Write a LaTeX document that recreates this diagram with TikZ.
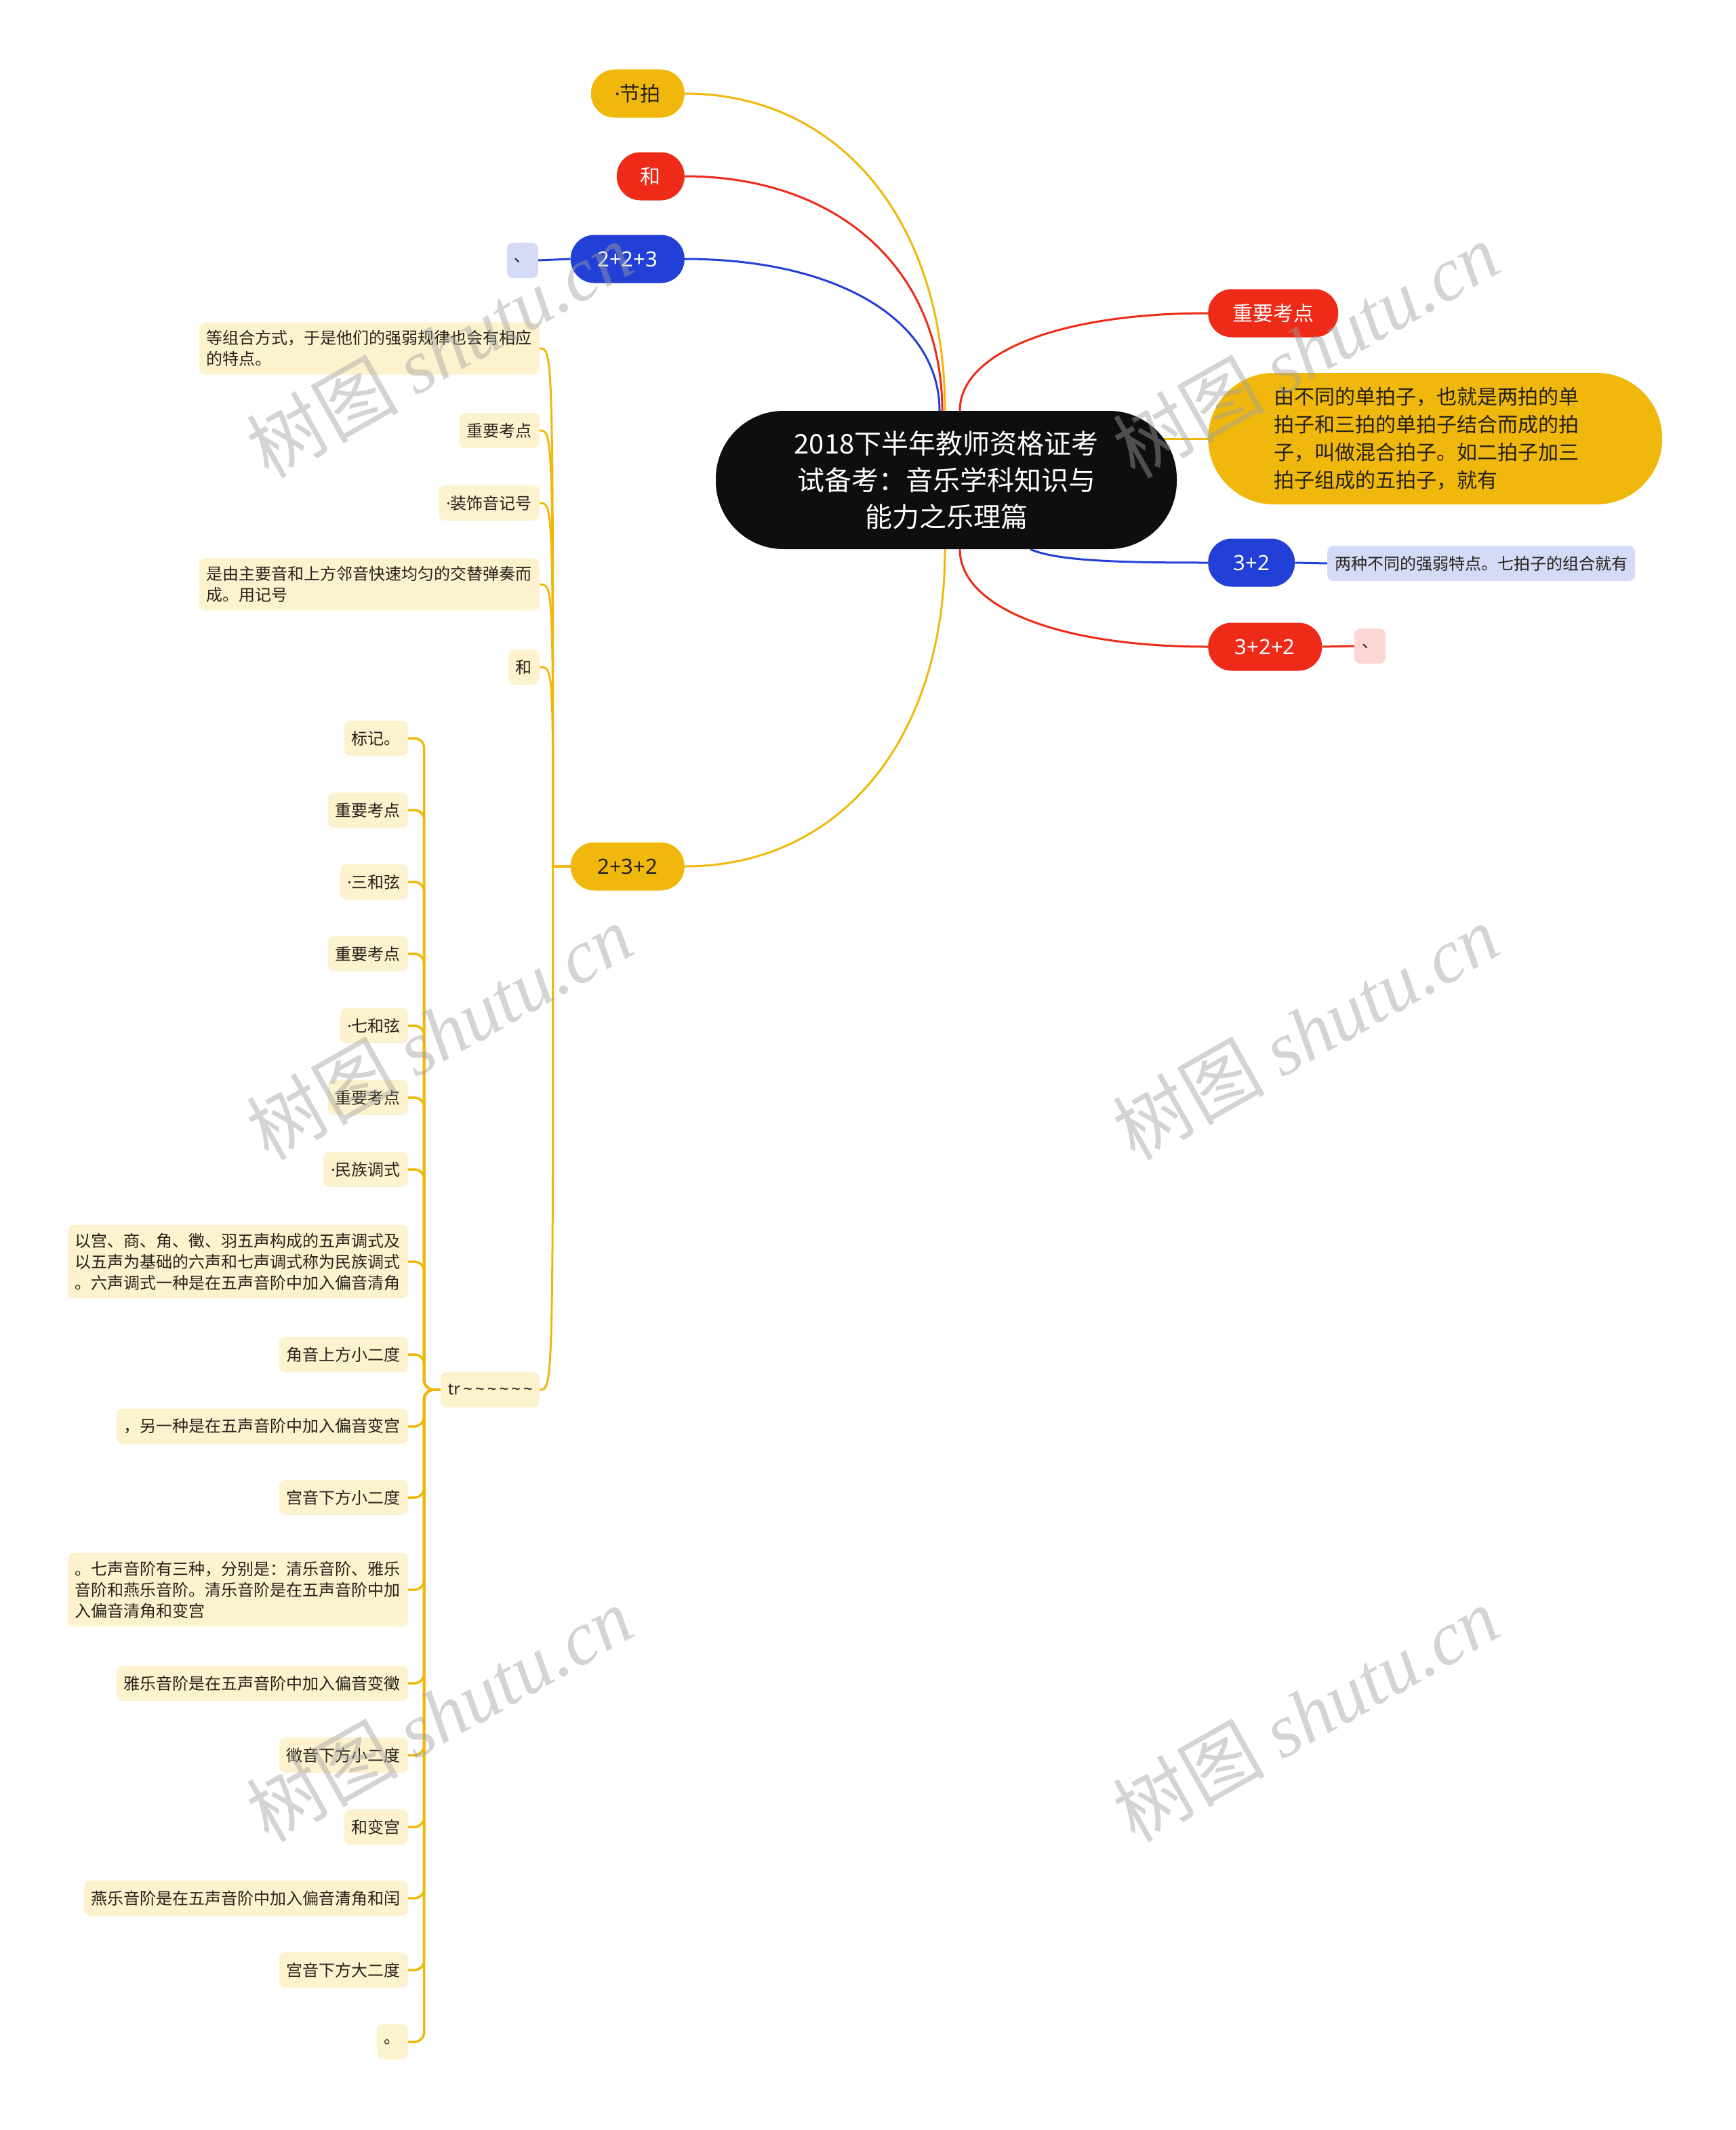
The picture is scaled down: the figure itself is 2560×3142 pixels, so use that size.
\documentclass[tikz,border=0pt]{standalone}
\usepackage{fontspec}
\setmainfont{Noto Sans CJK SC}
\newfontfamily\latinfont{Noto Sans}
\newfontfamily\markfont{Liberation Serif}
\usetikzlibrary{positioning,backgrounds}
\definecolor{mmyellow}{RGB}{240,184,12}
\definecolor{mmred}{RGB}{238,42,24}
\definecolor{mmblue}{RGB}{34,64,214}
\definecolor{mmblack}{RGB}{14,14,14}
\definecolor{paleyellow}{RGB}{253,242,206}
\definecolor{palelav}{RGB}{213,218,246}
\definecolor{palepink}{RGB}{252,214,210}
\definecolor{inktext}{RGB}{38,34,26}
\definecolor{markgray}{RGB}{160,160,160}
\newcommand{\mdot}{{\latinfont ·}}

\begin{document}
\begin{tikzpicture}[x=1pt,y=-1pt,
    every node/.style={inner sep=0pt},
    root/.style={fill=mmblack, text=white, rounded corners=100pt, minimum width=680pt,
      minimum height=204pt, align=center, font=\fontsize{40}{54}\selectfont},
    pill/.style={rounded corners=35pt, minimum height=71pt, inner xsep=35pt,
      font=\fontsize{30}{41}\selectfont},
    numpill/.style={pill, font=\fontsize{31}{41}\latinfont},
    bigpill/.style={fill=mmyellow, text=inktext, rounded corners=97pt, minimum height=194pt,
      text width=476pt, inner xsep=97pt, align=left, font=\fontsize{30}{41}\selectfont},
    leaf/.style={fill=paleyellow, text=inktext, rounded corners=9pt, inner xsep=11pt,
      inner ysep=12pt, minimum height=52pt, align=left, font=\fontsize{24}{31}\selectfont},
    link/.style={line width=3pt},
    trlink/.style={line width=3.5pt, mmyellow, rounded corners=14pt},
    wmark/.style={text=markgray, opacity=0.45, rotate=29.5, font=\fontsize{112}{112}\selectfont}]
\useasboundingbox (0,0) rectangle (2560,3142);

% centre topic
\node[root] (root) at (1396,708) {2018下半年教师资格证考\\试备考：音乐学科知识与\\能力之乐理篇};

% left branches
\node[pill, fill=mmyellow, text=inktext, anchor=east, minimum width=138pt] (jiepai) at (1010,138) {\mdot 节拍};
\node[pill, fill=mmred, text=white, anchor=east, minimum width=100pt] (he) at (1010,260) {和};
\node[numpill, fill=mmblue, text=white, anchor=east, minimum width=168pt] (n223) at (1010,382) {2+2+3};
\node[leaf, fill=palelav, anchor=east] (dun1) at (794,384) {、};
\node[numpill, fill=mmyellow, text=inktext, anchor=east, minimum width=168pt] (n232) at (1010,1278) {2+3+2};

% right branches
\node[pill, fill=mmred, text=white, anchor=west, minimum width=192pt] (zdkd) at (1782,462) {重要考点};
\node[bigpill, anchor=west] (mix) at (1782,647) {由不同的单拍子，也就是两拍的单\\拍子和三拍的单拍子结合而成的拍\\子，叫做混合拍子。如二拍子加三\\拍子组成的五拍子，就有};
\node[numpill, fill=mmblue, text=white, anchor=west, minimum width=128pt] (n32) at (1782,830) {3+2};
\node[leaf, fill=palelav, anchor=west] (qipai) at (1958,831) {两种不同的强弱特点。七拍子的组合就有};
\node[numpill, fill=mmred, text=white, anchor=west, minimum width=168pt] (n322) at (1782,954) {3+2+2};
\node[leaf, fill=palepink, anchor=west] (dun2) at (1998,953) {、};

% children of 2+3+2
\node[leaf, anchor=east] (a1) at (796,514) {等组合方式，于是他们的强弱规律也会有相应\\的特点。};
\node[leaf, anchor=east] (a2) at (796,635) {重要考点};
\node[leaf, anchor=east] (a3) at (796,742) {\mdot 装饰音记号};
\node[leaf, anchor=east] (a4) at (796,862) {是由主要音和上方邻音快速均匀的交替弹奏而\\成。用记号};
\node[leaf, anchor=east] (a5) at (796,984) {和};
\node[leaf, anchor=east, text width=124pt] (tr) at (796,2050) {\latinfont tr\,\textasciitilde\,\textasciitilde\,\textasciitilde\,\textasciitilde\,\textasciitilde\,\textasciitilde};

% children of tr
\node[leaf, anchor=east] (b1) at (602,1089) {标记。};
\node[leaf, anchor=east] (b2) at (602,1195) {重要考点};
\node[leaf, anchor=east] (b3) at (602,1301) {\mdot 三和弦};
\node[leaf, anchor=east] (b4) at (602,1407) {重要考点};
\node[leaf, anchor=east] (b5) at (602,1513) {\mdot 七和弦};
\node[leaf, anchor=east] (b6) at (602,1619) {重要考点};
\node[leaf, anchor=east] (b7) at (602,1725) {\mdot 民族调式};
\node[leaf, anchor=east] (b8) at (602,1861) {以宫、商、角、徵、羽五声构成的五声调式及\\以五声为基础的六声和七声调式称为民族调式\\。六声调式一种是在五声音阶中加入偏音清角};
\node[leaf, anchor=east] (b9) at (602,1998) {角音上方小二度};
\node[leaf, anchor=east] (b10) at (602,2104) {，另一种是在五声音阶中加入偏音变宫};
\node[leaf, anchor=east] (b11) at (602,2209) {宫音下方小二度};
\node[leaf, anchor=east] (b12) at (602,2345) {。七声音阶有三种，分别是：清乐音阶、雅乐\\音阶和燕乐音阶。清乐音阶是在五声音阶中加\\入偏音清角和变宫};
\node[leaf, anchor=east] (b13) at (602,2483) {雅乐音阶是在五声音阶中加入偏音变徵};
\node[leaf, anchor=east] (b14) at (602,2589) {徵音下方小二度};
\node[leaf, anchor=east] (b15) at (602,2695) {和变宫};
\node[leaf, anchor=east] (b16) at (602,2800) {燕乐音阶是在五声音阶中加入偏音清角和闰};
\node[leaf, anchor=east] (b17) at (602,2906) {宫音下方大二度};
\node[leaf, anchor=east] (b18) at (602,3012) {。};

% connectors
\begin{scope}[on background layer]
\draw[link, mmyellow] (jiepai.east) .. controls +(228,0) and +(0,-280) .. ([xshift=-2pt]root.north);
\draw[link, mmred] (he.east) .. controls +(227,0) and +(0,-208) .. ([xshift=-6pt]root.north);
\draw[link, mmblue] (n223.east) .. controls +(225,0) and +(0,-134) .. ([xshift=-10pt]root.north);
\draw[link, mmblue] (dun1.east) -- (n223.west);
\draw[link, mmyellow] (n232.east) .. controls +(230,0) and +(0,280) .. ([xshift=-2pt]root.south);
\draw[link, mmred] ([xshift=20pt]root.north) .. controls +(0,-86) and +(-220,0) .. (zdkd.west);
\draw[link, mmyellow] ([xshift=-40pt]root.east |- mix.west) -- (mix.west);
\draw[link, mmblue] ([xshift=124pt]root.south) .. controls +(40,18) and +(-120,0) .. (n32.west);
\draw[link, mmblue] (n32.east) -- (qipai.west);
\draw[link, mmred] ([xshift=20pt]root.south) .. controls +(0,86) and +(-220,0) .. (n322.west);
\draw[link, mmred] (n322.east) -- (dun2.west);
\foreach \c in {a1,a2,a3,a4,a5,tr}
  \draw[link, mmyellow] (n232.west) -- ++(-26,0)
    .. controls ([xshift=20pt]\c.east) and ([xshift=20pt]\c.east) .. (\c.east);
\foreach \c in {b1,b2,b3,b4,b5,b6,b7,b8,b9,b10,b11,b12,b13,b14,b15,b16,b17,b18}
  \draw[trlink] (tr.west) -- ++(-24,0) |- (\c.east);
\end{scope}

% watermark
\foreach \wx/\wy [count=\i] in {648/516, 1926/516, 648/1522, 1926/1522, 648/2528, 1926/2528}
  \node[wmark] (wm\i) at (\wx,\wy) {树图 {\markfont\itshape shutu.cn}};
\end{tikzpicture}
\end{document}
